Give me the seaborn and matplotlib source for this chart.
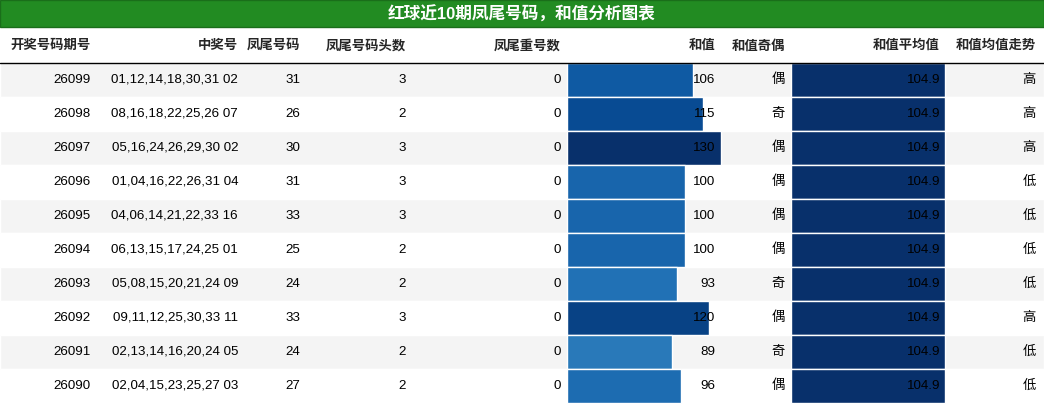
import matplotlib
matplotlib.use("Agg")
import matplotlib.pyplot as plt
import seaborn as sns
import numpy as np

sns.set_style("white")
plt.rcParams['font.family'] = ['Liberation Sans', 'Noto Sans CJK SC', 'DejaVu Sans']

title = "红球近10期凤尾号码，和值分析图表"
headers = ["开奖号码期号", "中奖号", "凤尾号码", "凤尾号码头数", "凤尾重号数", "和值", "和值奇偶", "和值平均值", "和值均值走势"]
periods = ["26099", "26098", "26097", "26096", "26095", "26094", "26093", "26092", "26091", "26090"]
numbers = ["01,12,14,18,30,31 02", "08,16,18,22,25,26 07", "05,16,24,26,29,30 02",
           "01,04,16,22,26,31 04", "04,06,14,21,22,33 16", "06,13,15,17,24,25 01",
           "05,08,15,20,21,24 09", "09,11,12,25,30,33 11", "02,13,14,16,20,24 05",
           "02,04,15,23,25,27 03"]
tail = [31, 26, 30, 31, 33, 25, 24, 33, 24, 27]
tail_head = [3, 2, 3, 3, 3, 2, 2, 3, 2, 2]
tail_repeat = [0] * 10
sums = [106, 115, 130, 100, 100, 100, 93, 120, 89, 96]
parity = ["偶", "奇", "偶", "偶", "偶", "偶", "奇", "偶", "奇", "偶"]
avg = [104.9] * 10
trend = ["高", "高", "高", "低", "低", "低", "低", "高", "低", "低"]

W, H = 1044, 404
fig = plt.figure(figsize=(W / 100, H / 100), dpi=100)
ax = fig.add_axes([0, 0, 1, 1])
ax.set_xlim(0, W)
ax.set_ylim(H, 0)
ax.axis("off")

# title bar
ax.barh([13.5], [W], left=0, height=27, color="#228B22", edgecolor="#1a6e1a")
ax.text(W / 2, 14, title, ha="center", va="center", color="white", fontsize=12, fontweight="bold")

right_x = [91, 238, 300, 406, 561, 715, 785, 940, 1036]
for x, h in zip(right_x, headers):
    ax.text(x, 46, h, ha="right", va="center", fontsize=9.6, fontweight="bold")
ax.plot([0, W], [62.5, 62.5], color="black", lw=1)

row_h = 34
centers = [80 + row_h * i for i in range(len(periods))]
bg = ["#f4f4f4" if i % 2 == 0 else "white" for i in range(len(periods))]
ax.barh(centers, [W] * len(periods), left=0, height=row_h, color=bg)

cmap = plt.get_cmap("Blues")
smin, smax = min(sums), max(sums)
cols = [cmap(0.72 + 0.28 * (s - smin) / (smax - smin)) for s in sums]
scale = 154 / smax
ax.barh(centers, [s * scale for s in sums], left=567, height=row_h, color=cols)
ax.barh(centers, [a * 154 / max(avg) for a in avg], left=791, height=row_h, color="#08306b")

fs = 9.6
for i, c in enumerate(centers):
    vals = [periods[i], numbers[i], str(tail[i]), str(tail_head[i]), str(tail_repeat[i]),
            str(sums[i]), parity[i], f"{avg[i]:.1f}", trend[i]]
    for x, v in zip(right_x, vals):
        ax.text(x, c, v, ha="right", va="center", fontsize=fs, color="black")

fig.savefig("out.png", dpi=100)
